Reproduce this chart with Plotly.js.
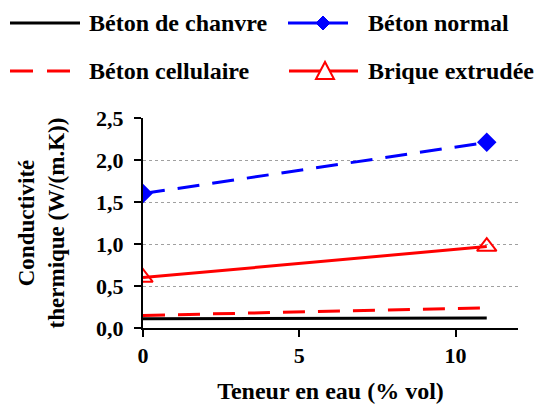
<!DOCTYPE html>
<html><head><meta charset="utf-8">
<script src="https://cdn.plot.ly/plotly-3.0.1.min.js"></script>
<style>html,body{margin:0;padding:0;background:#fff}</style>
</head><body><div id="chart" style="width:546px;height:405px"></div>
<script>
// Data
const teneur = [0, 11];
const betonChanvre = [0.11, 0.12];
const betonNormal = [1.6, 2.21];
const betonCellulaire = [0.15, 0.24];
const briqueExtrudee = [0.6, 0.97];
const seriesNames = ['Béton de chanvre', 'Béton normal', 'Béton cellulaire', 'Brique extrudée'];
const yTicks = [0, 0.5, 1.0, 1.5, 2.0, 2.5];
const xTicks = [0, 5, 10];

const FONT = 'Liberation Serif, Times New Roman, serif';
const L = 143, R = 28, T = 118, B = 77, W = 546, H = 405;
const PW = W - L - R, PH = H - T - B;
const px = x => (x - L) / PW;
const py = y => (H - B - y) / PH;

const traces = [
  {x: teneur, y: betonChanvre, name: seriesNames[0], mode: 'lines',
   line: {color: '#000000', width: 3}},
  {x: teneur, y: betonNormal, name: seriesNames[1], mode: 'lines+markers',
   line: {color: '#0000ff', width: 3, dash: '22px,13px'},
   marker: {symbol: 'diamond', size: 15, color: '#0000ff'}},
  {x: teneur, y: betonCellulaire, name: seriesNames[2], mode: 'lines',
   line: {color: '#ff0000', width: 3, dash: '22px,13px'}},
  {x: teneur, y: briqueExtrudee, name: seriesNames[3], mode: 'lines+markers',
   line: {color: '#ff0000', width: 3},
   marker: {symbol: 'triangle-up-open', size: 17, color: '#ff0000', line: {width: 2, color: '#ff0000'}}}
];

// custom legend
const shapes = [];
const annotations = [];
const legendItems = [
  {name: seriesNames[0], x0: 10, x1: 80, y: 23, color: '#000', dash: 'solid', tx: 87},
  {name: seriesNames[1], x0: 288, x1: 348, y: 23, color: '#0000ff', dash: 'solid', tx: 366, marker: 'diamond', mx: 323},
  {name: seriesNames[2], x0: 10, x1: 72, y: 71, color: '#ff0000', dash: '23px,14px', tx: 87},
  {name: seriesNames[3], x0: 289, x1: 358, y: 71, color: '#ff0000', dash: 'solid', tx: 366, marker: 'triangle', mx: 325}
];
legendItems.forEach(it => {
  shapes.push({type: 'line', xref: 'paper', yref: 'paper', x0: px(it.x0), x1: px(it.x1), y0: py(it.y), y1: py(it.y),
    line: {color: it.color, width: 3, dash: it.dash}});
  if (it.marker === 'diamond') {
    const c = it.mx, r = 7, y = it.y;
    shapes.push({type: 'path', xref: 'paper', yref: 'paper',
      path: `M${px(c-r)},${py(y)} L${px(c)},${py(y-r)} L${px(c+r)},${py(y)} L${px(c)},${py(y+r)} Z`,
      fillcolor: it.color, line: {color: it.color, width: 1}});
  }
  if (it.marker === 'triangle') {
    const c = it.mx, y = it.y;
    shapes.push({type: 'path', xref: 'paper', yref: 'paper',
      path: `M${px(c-9)},${py(y+8)} L${px(c)},${py(y-9)} L${px(c+9)},${py(y+8)} Z`,
      fillcolor: '#ffffff', line: {color: it.color, width: 2}});
  }
  annotations.push({xref: 'paper', yref: 'paper', x: px(it.tx), y: py(it.y), xanchor: 'left', yanchor: 'middle',
    text: it.name, showarrow: false, font: {family: FONT, size: 24, color: '#000', weight: 'bold'}});
});

const layout = {
  width: W, height: H,
  margin: {l: L, r: R, t: T, b: B, pad: 0},
  paper_bgcolor: '#fff', plot_bgcolor: '#fff',
  showlegend: false,
  separators: ', ',
  font: {family: FONT, color: '#000', weight: 'bold'},
  xaxis: {
    range: [0, 12], tickvals: xTicks, ticktext: xTicks.map(String),
    showgrid: false, zeroline: false,
    showline: true, linecolor: '#000', linewidth: 2,
    ticks: 'outside', ticklen: 7, tickwidth: 2, tickcolor: '#000',
    tickfont: {family: FONT, size: 22, color: '#000', weight: 'bold'},
    title: {text: 'Teneur en eau (% vol)', font: {family: FONT, size: 24, color: '#000', weight: 'bold'}, standoff: 15}
  },
  yaxis: {
    range: [0, 2.5], tickvals: yTicks, tickformat: '.1f',
    showgrid: true, gridcolor: '#a0a0a0', griddash: 'dot', gridwidth: 1,
    zeroline: false,
    showline: true, linecolor: '#000', linewidth: 2,
    ticks: 'outside', ticklen: 7, tickwidth: 2, tickcolor: '#000',
    ticklabelstandoff: 6,
    tickfont: {family: FONT, size: 22, color: '#000', weight: 'bold'},
    title: {text: 'Conductivité<br>thermique (W/(m.K))', font: {family: FONT, size: 23, color: '#000', weight: 'bold'}, standoff: 25}
  },
  shapes: shapes,
  annotations: annotations
};

Plotly.newPlot('chart', traces, layout, {displayModeBar: false, staticPlot: true});
</script></body></html>
